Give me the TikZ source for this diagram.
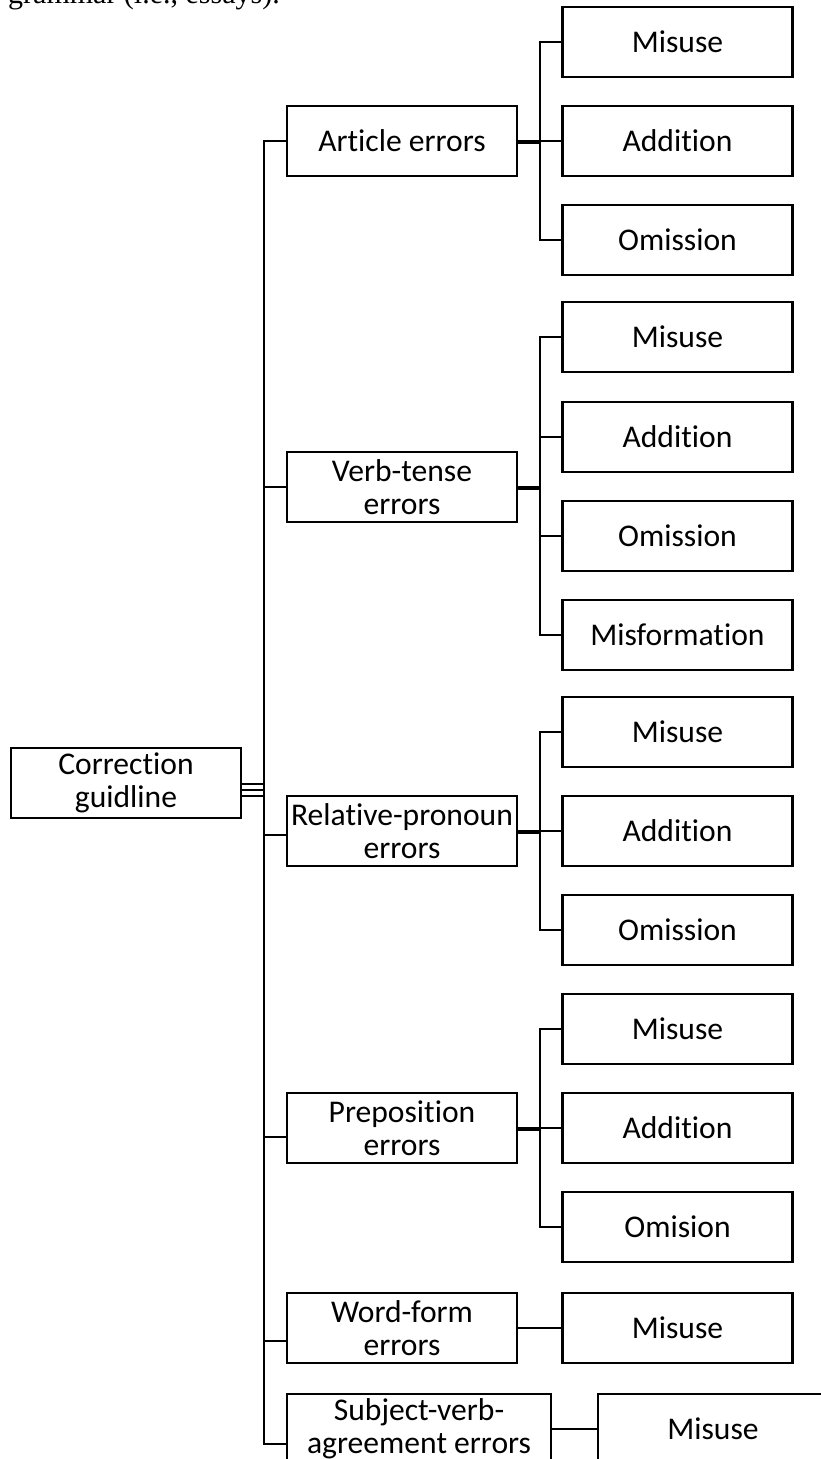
\documentclass[tikz,border=0pt]{standalone}
\usepackage{fontspec}
\setmainfont{Carlito}[Ligatures={NoCommon}]
\newfontfamily\serifft{Liberation Serif}
\begin{document}
\begin{tikzpicture}[x=1pt,y=-1pt,
  box/.style={draw=black, line width=2.7pt, minimum width=230pt, minimum height=70pt,
    inner sep=0pt, align=center, font=\fontsize{31.6}{33}\selectfont, fill=white},
  conn/.style={draw=black, line width=2.4pt},
  thickconn/.style={draw=black, line width=4.5pt}]
\useasboundingbox (0,0) rectangle (821,1459);

% clipped caption fragment at the top
\node[font=\serifft\fontsize{30}{30}\selectfont, anchor=base west, inner sep=0pt] (frag) at (8,3) {grammar (i.e., essays).};

% root
\node[box] (root) at (126,783) {Correction\\guidline};

% categories
\node[box] (a1) at (402,141) {Article errors};
\node[box] (a2) at (402,487) {Verb-tense\\errors};
\node[box] (a3) at (402,831) {Relative-pronoun\\errors};
\node[box] (a4) at (402,1128) {Preposition\\errors};
\node[box] (a5) at (402,1328) {Word-form\\errors};
\node[box, minimum width=264pt] (a6) at (419,1429) {Subject-verb-\\agreement errors};

% group 1
\node[box] (b11) at (677.5,42) {Misuse};
\node[box] (b12) at (677.5,141) {Addition};
\node[box] (b13) at (677.5,240) {Omission};
% group 2
\node[box] (b21) at (677.5,337) {Misuse};
\node[box] (b22) at (677.5,437) {Addition};
\node[box] (b23) at (677.5,536) {Omission};
\node[box] (b24) at (677.5,635) {Misformation};
% group 3
\node[box] (b31) at (677.5,732) {Misuse};
\node[box] (b32) at (677.5,831) {Addition};
\node[box] (b33) at (677.5,930) {Omission};
% group 4
\node[box] (b41) at (677.5,1029) {Misuse};
\node[box] (b42) at (677.5,1128) {Addition};
\node[box] (b43) at (677.5,1227) {Omision};
% group 5, 6
\node[box] (b51) at (677.5,1328) {Misuse};
\node[box] (b61) at (713,1429) {Misuse};

% trunk coordinates
\coordinate (t2) at (264,487);
\coordinate (t3) at (264,835);
\coordinate (t4) at (264,1137);
\coordinate (t5) at (264,1341);
\coordinate (t6) at (264,1444);

% root connectors (three parallel lines)
\coordinate (r1) at (241,784);
\coordinate (r2) at (241,790);
\coordinate (r3) at (241,796);
\draw[conn] (r1) -- (r1 -| t2);
\draw[conn] (r2) -- (r2 -| t2);
\draw[conn] (r3) -- (r3 -| t2);

% trunk and elbows
\draw[conn] (a1.west) -| (t6) -- (t6 -| a6.west);
\draw[conn] (t2) -- (t2 -| a2.west);
\draw[conn] (t3) -- (t3 -| a3.west);
\draw[conn] (t4) -- (t4 -| a4.west);
\draw[conn] (t5) -- (t5 -| a5.west);

% sub-trunk coordinates
\coordinate (s1) at (540,142);
\coordinate (s2) at (540,488);
\coordinate (s3) at (540,832);
\coordinate (s4) at (540,1129);

% group 1
\draw[thickconn] (s1 -| a1.east) -- (s1);
\draw[conn] (b11.west) -| (s1) |- (b13.west);
\draw[conn] (s1 |- b12) -- (b12.west);
% group 2
\draw[thickconn] (s2 -| a2.east) -- (s2);
\draw[conn] (b21.west) -| (s2) |- (b24.west);
\draw[conn] (s2 |- b22) -- (b22.west);
\draw[conn] (s2 |- b23) -- (b23.west);
% group 3
\draw[thickconn] (s3 -| a3.east) -- (s3);
\draw[conn] (b31.west) -| (s3) |- (b33.west);
\draw[conn] (s3 |- b32) -- (b32.west);
% group 4
\draw[thickconn] (s4 -| a4.east) -- (s4);
\draw[conn] (b41.west) -| (s4) |- (b43.west);
\draw[conn] (s4 |- b42) -- (b42.west);
% group 5, 6
\draw[conn] (a5.east) -- (b51.west);
\draw[conn] (a6.east) -- (b61.west);
\end{tikzpicture}
\end{document}
